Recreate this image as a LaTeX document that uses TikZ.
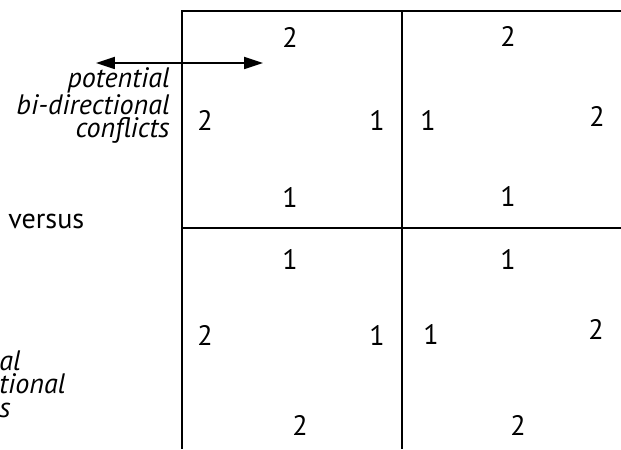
\documentclass[tikz,border=0pt]{standalone}
\usepackage{fontspec}
\setmainfont{PT Sans}
\usetikzlibrary{arrows.meta}
\tikzset{
    num/.style={font=\fontsize{16}{13.2}\selectfont, inner sep=0pt},
    lbl/.style={font=\fontsize{16}{13.2}\selectfont\itshape, inner sep=0pt},
    gridline/.style={line width=1.1pt, black},
}

\begin{document}
\begin{tikzpicture}[x=0.02cm, y=-0.02cm]
    \useasboundingbox (0,0) rectangle (621,449);

    % Grid
    \draw[gridline] (621,11) -- (182,11) -- (182,449);
    \draw[gridline] (402,11) -- (402,449);
    \draw[gridline] (182,228) -- (621,228);

    % Double arrow
    \coordinate (aL) at (96,63);
    \coordinate (aR) at (263,63);
    \draw[{Triangle[length=0.38cm, width=0.24cm]}-{Triangle[length=0.38cm, width=0.24cm]}, line width=1pt] (aL) -- (aR);

    % Labels
    \node[lbl, align=right, anchor=base east] (conf) at (170,138) {potential\\bi-directional\\conflicts};
    \node[num, anchor=base west] (versus) at (8,228) {versus};
    \node[lbl, align=left, anchor=base west] (frag) at (-1,417) {al\\tional\\s};

    % Numbers in the cells
    \foreach \x/\y/\n [count=\i] in {290/37/2, 205/120/2, 377/120/1, 290/197/1,
                                     508/36/2, 428/120/1, 597/116/2, 508/196/1,
                                     290/259/1, 205/335/2, 377/335/1, 300/425/2,
                                     508/259/1, 431/334/1, 596/329/2, 518/425/2}
        \node[num] (n\i) at (\x,\y) {\n};
\end{tikzpicture}
\end{document}
